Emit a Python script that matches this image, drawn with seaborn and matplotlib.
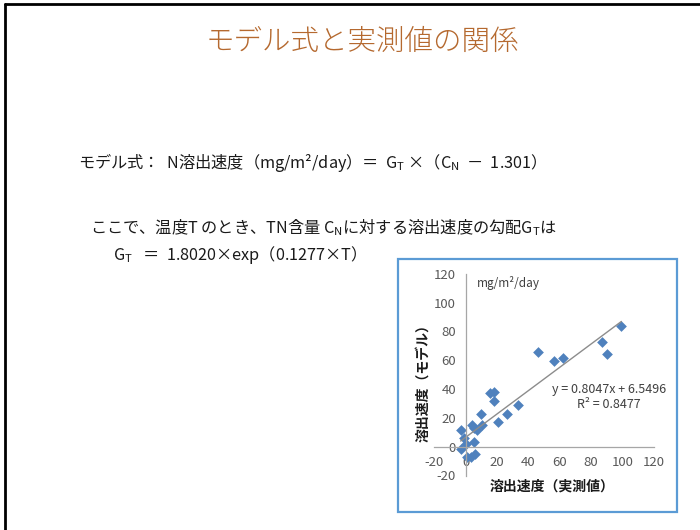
import numpy as np
import pandas as pd
import matplotlib
matplotlib.use("Agg")
import matplotlib.pyplot as plt
from matplotlib.patches import Rectangle
from matplotlib.lines import Line2D
import seaborn as sns

# ---------------- data ----------------
measured = [-3.2, -1.1, -3.2, 0.4, 0.6, 3.4, 6.0, 5.3, 4.3, 5.3, 7.0, 9.6, 10.6,
            15.5, 18.1, 18.3, 20.4, 26.6, 33.2, 46.0, 56.4, 62.3, 86.8, 90.0, 99.4]
model = [11.6, 6.3, -1.9, 1.6, -7.4, -6.9, -5.3, 3.5, 15.0, 13.2, 11.6, 22.7, 15.0,
         37.5, 38.2, 31.7, 17.4, 22.5, 28.9, 65.5, 59.5, 61.8, 72.9, 64.6, 83.8]
ticks = [-20, 0, 20, 40, 60, 80, 100, 120]

title = "モデル式と実測値の関係"
line1 = r"モデル式：  N溶出速度（mg/m²/day）＝  G$_\mathrm{T}$ ×（C$_\mathrm{N}$  －  1.301）"
line2 = r"ここで、温度T のとき、TN含量 C$_\mathrm{N}$に対する溶出速度の勾配G$_\mathrm{T}$は"
line3 = r"G$_\mathrm{T}$   ＝  1.8020×exp（0.1277×T）"
xlabel = "溶出速度（実測値）"
ylabel = "溶出速度（モデル）"
unit_text = "mg/m²/day"
eq_text = "y = 0.8047x + 6.5496\nR² = 0.8477"

df = pd.DataFrame({"measured": measured, "model": model})

# ---------------- style ----------------
sns.set_style("white")
plt.rcParams["font.family"] = ["Noto Sans CJK JP", "DejaVu Sans"]
plt.rcParams["mathtext.fontset"] = "custom"
plt.rcParams["mathtext.rm"] = "Noto Sans CJK JP"
plt.rcParams["mathtext.it"] = "Noto Sans CJK JP"
plt.rcParams["mathtext.bf"] = "Noto Sans CJK JP:bold"
plt.rcParams["axes.unicode_minus"] = False

W, H = 700, 530
fig = plt.figure(figsize=(7, 5.3), dpi=100)
fig.patch.set_facecolor("white")

def fx(px):
    return px / W

def fy(py):
    return 1 - py / H

# slide border (left and top)
fig.add_artist(Line2D([fx(5), fx(5)], [fy(4), 0], transform=fig.transFigure,
                      color="black", lw=2))
fig.add_artist(Line2D([fx(5), 1], [fy(4), fy(4)], transform=fig.transFigure,
                      color="black", lw=2))

# title and formulas
fig.text(fx(362), fy(50), title, ha="center", va="baseline", fontsize=20.5,
         fontweight="light", color="#B5692F")
fs = 11.7
fig.text(fx(78), fy(168), line1, ha="left", va="baseline", fontsize=fs, color="#1a1a1a")
fig.text(fx(90), fy(233), line2, ha="left", va="baseline", fontsize=fs, color="#1a1a1a")
fig.text(fx(113), fy(260), line3, ha="left", va="baseline", fontsize=fs, color="#1a1a1a")

# inset chart frame
fig.add_artist(Rectangle((fx(398), fy(512)), fx(677) - fx(398), fy(259) - fy(512),
                         transform=fig.transFigure, facecolor="white",
                         edgecolor="#5B9BD5", lw=1.6, zorder=0))

ax = fig.add_axes([fx(434.3), fy(475.5), fx(653.7) - fx(434.3), fy(273.9) - fy(475.5)])
ax.set_zorder(1)
ax.set_facecolor("none")

sns.regplot(data=df, x="measured", y="model", ax=ax, ci=None, truncate=True,
            marker="D", color="#4F81BD",
            scatter_kws=dict(s=30, linewidths=0, alpha=1),
            line_kws=dict(color="#8C8C8C", lw=1))

ax.set_xlim(-20, 120)
ax.set_ylim(-20, 120)
ax.set_xticks(ticks)
ax.set_yticks(ticks)
ax.spines["top"].set_visible(False)
ax.spines["right"].set_visible(False)
ax.spines["left"].set_position(("data", 0))
ax.spines["bottom"].set_position(("data", 0))
for s in ("left", "bottom"):
    ax.spines[s].set_color("#A6A6A6")
    ax.spines[s].set_linewidth(0.9)
ax.tick_params(direction="out", length=4, width=0.9, color="#A6A6A6",
               labelsize=9.5, labelcolor="#595959", pad=3)
ax.grid(False)

ax.set_xlabel(xlabel, fontsize=10, fontweight="bold", color="#1a1a1a")
ax.set_ylabel(ylabel, fontsize=10, fontweight="bold", color="#1a1a1a")
ax.xaxis.set_label_coords(0.536, -0.022)
ax.yaxis.set_label_coords(-0.02, 0.475)

fig.text(fx(477), fy(283), unit_text, ha="left", va="center", fontsize=8.5,
         color="#404040")
fig.text(fx(609), fy(397), eq_text, ha="center", va="center", fontsize=9,
         color="#404040", multialignment="center", linespacing=1.3)

fig.savefig("out.png", dpi=100, facecolor="white")
